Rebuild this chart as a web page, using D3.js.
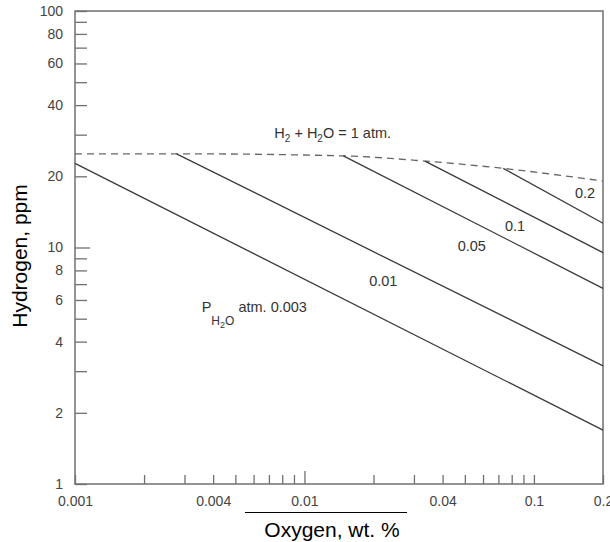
<!DOCTYPE html>
<html>
<head>
<meta charset="utf-8">
<script src="https://cdn.jsdelivr.net/npm/d3@7"></script>
<style>
  body { margin: 0; background: #fff; }
  svg { display: block; font-family: "Liberation Sans", Arial, sans-serif; }
</style>
</head>
<body>
<svg id="chart" width="610" height="542"></svg>
<script>
//-----------------------------------------------------//

// Chart values: oxygen wt.% vs hydrogen ppm
const pressures = ["0.003", "0.01", "0.05", "0.1", "0.2"];
const lineOxygen = [
  [0.001, 0.2],
  [0.00277, 0.2],
  [0.01477, 0.2],
  [0.0335, 0.2],
  [0.0735, 0.2]
];
const lineHydrogen = [
  [22.7, 1.69],
  [24.9, 3.16],
  [24.4, 6.72],
  [23.2, 9.51],
  [21.6, 12.66]
];

// Dashed boundary H2 + H2O = 1 atm
const limitOxygen = [0.001, 0.00277, 0.01477, 0.0335, 0.0735, 0.2];
const limitHydrogen = [24.9, 24.9, 24.4, 23.2, 21.6, 19.1];

// Curve labels, placed in data units
const labelText = ["0.2", "0.1", "0.05", "0.01"];
const labelOxygen = [0.167, 0.0827, 0.0536, 0.02206];
const labelHydrogen = [16.2, 11.7, 9.7, 6.87];

// Ticks
const xTicks = [0.001, 0.002, 0.003, 0.004, 0.005, 0.006, 0.007, 0.008, 0.009,
                0.01, 0.02, 0.03, 0.04, 0.05, 0.06, 0.07, 0.08, 0.09, 0.1, 0.2];
const xLabels = [0.001, 0.004, 0.01, 0.04, 0.1, 0.2];
const yTicks = [1, 2, 3, 4, 5, 6, 7, 8, 9, 10, 20, 30, 40, 50, 60, 70, 80, 90, 100];
const yLabels = [1, 2, 4, 6, 8, 10, 20, 40, 60, 80, 100];

//-----------------------------------------------------//

// Plot box edges
const plotLeft = 75, plotRight = 603, plotTop = 11, plotBottom = 484;
const frameColor = "#707070";

const svg = d3.select("#chart");

const x = d3.scaleLog().domain([0.001, 0.2]).range([plotLeft, plotRight]);
const y = d3.scaleLog().domain([1, 100]).range([plotBottom, plotTop]);

// x axis, ticks pointing inward
const xAxis = d3.axisBottom(x)
  .tickValues(xTicks)
  .tickSize(-9)
  .tickPadding(12)
  .tickFormat(d => xLabels.includes(d) ? String(d) : "");

const gx = svg.append("g")
  .attr("transform", `translate(0,${plotBottom})`)
  .call(xAxis);
gx.select(".domain").remove();
gx.selectAll(".tick line").attr("stroke", frameColor).attr("stroke-width", 1.3)
  .filter(d => d === 0.01).attr("y2", -13);
gx.selectAll(".tick text")
  .attr("fill", "#444")
  .style("font-size", "14px");

// y axis
const yAxis = d3.axisLeft(y)
  .tickValues(yTicks)
  .tickSize(-12)
  .tickPadding(12)
  .tickFormat(d => yLabels.includes(d) ? String(d) : "");

const gy = svg.append("g")
  .attr("transform", `translate(${plotLeft},0)`)
  .call(yAxis);
gy.select(".domain").remove();
gy.selectAll(".tick line").attr("stroke", frameColor).attr("stroke-width", 1.3)
  .filter(d => d === 10).attr("x2", 15);
gy.selectAll(".tick text")
  .attr("fill", "#444")
  .style("font-size", "14px");

// Frame round the plot
svg.append("rect")
  .attr("x", plotLeft)
  .attr("y", plotTop)
  .attr("width", plotRight - plotLeft)
  .attr("height", plotBottom - plotTop)
  .attr("fill", "none")
  .attr("stroke", frameColor)
  .attr("stroke-width", 1.5);

const line = d3.line()
  .x(d => x(d[0]))
  .y(d => y(d[1]));

// Dashed limit line
svg.append("path")
  .datum(limitOxygen.map((o, i) => [o, limitHydrogen[i]]))
  .attr("d", line.curve(d3.curveMonotoneX))
  .attr("fill", "none")
  .attr("stroke", "#666")
  .attr("stroke-width", 1.3)
  .attr("stroke-dasharray", "7,5");

// Constant water vapour pressure lines
line.curve(d3.curveLinear);
svg.selectAll(".pline")
  .data(pressures.map((p, i) => lineOxygen[i].map((o, j) => [o, lineHydrogen[i][j]])))
  .enter().append("path")
  .attr("class", "pline")
  .attr("d", line)
  .attr("fill", "none")
  .attr("stroke", "#3a3a3a")
  .attr("stroke-width", 1.3);

// Curve labels
svg.selectAll(".plabel")
  .data(labelText)
  .enter().append("text")
  .attr("class", "plabel")
  .attr("x", (d, i) => x(labelOxygen[i]))
  .attr("y", (d, i) => y(labelHydrogen[i]))
  .attr("text-anchor", "middle")
  .attr("fill", "#333")
  .style("font-size", "14.5px")
  .text(d => d);

// P H2O atm. 0.003
const pLabel = svg.append("text")
  .attr("x", x(0.003565))
  .attr("y", y(5.35))
  .attr("fill", "#333")
  .style("font-size", "14.5px");
pLabel.append("tspan").text("P");
pLabel.append("tspan").attr("dy", 13).style("font-size", "12px").text("H");
pLabel.append("tspan").attr("dy", 3).style("font-size", "9px").text("2");
pLabel.append("tspan").attr("dy", -3).style("font-size", "12px").text("O");
pLabel.append("tspan").attr("dy", -13).text(" atm. 0.003");

// H2 + H2O = 1 atm.
const hLabel = svg.append("text")
  .attr("x", x(0.00739))
  .attr("y", y(28.9))
  .attr("fill", "#333")
  .style("font-size", "14.5px");
hLabel.append("tspan").text("H");
hLabel.append("tspan").attr("dy", 4).style("font-size", "10px").text("2");
hLabel.append("tspan").attr("dy", -4).text(" + H");
hLabel.append("tspan").attr("dy", 4).style("font-size", "10px").text("2");
hLabel.append("tspan").attr("dy", -4).text("O = 1 atm.");

// Axis titles
svg.append("text")
  .attr("transform", "translate(27,256) rotate(-90)")
  .attr("text-anchor", "middle")
  .attr("fill", "#000")
  .style("font-size", "21px")
  .text("Hydrogen, ppm");

// short black rule above the x title, as in the source figure
svg.append("line")
  .attr("x1", 245).attr("x2", 407)
  .attr("y1", 512.5).attr("y2", 512.5)
  .attr("stroke", "#000")
  .attr("stroke-width", 1);

svg.append("text")
  .attr("x", 332)
  .attr("y", 537)
  .attr("text-anchor", "middle")
  .attr("fill", "#000")
  .style("font-size", "21px")
  .text("Oxygen, wt. %");
</script>
</body>
</html>
